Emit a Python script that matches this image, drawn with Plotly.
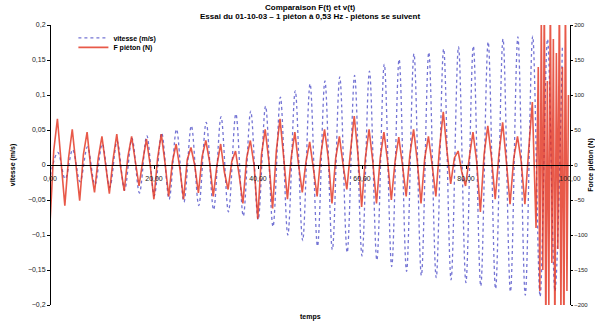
import numpy as np
import plotly.graph_objects as go

# ---------------- data ----------------
# velocity extrema (m/s), alternating trough / peak, uniform half-period sampling
blue_t0 = 0.07
blue_dt = 1.427
blue_v = [-0.015,
          0.018, -0.020, 0.022, -0.024, 0.026, -0.028, 0.030, -0.032, 0.034, -0.036,
          0.038, -0.040, 0.042, -0.044, 0.046, -0.049, 0.051, -0.053, 0.056, -0.058,
          0.061, -0.064, 0.069, -0.067, 0.073, -0.073, 0.077, -0.078, 0.084, -0.088,
          0.097, -0.100, 0.106, -0.108, 0.116, -0.116, 0.120, -0.121, 0.126, -0.125,
          0.128, -0.130, 0.134, -0.136, 0.144, -0.145, 0.151, -0.152, 0.159, -0.158,
          0.161, -0.161, 0.166, -0.164, 0.169, -0.168, 0.170, -0.173, 0.176, -0.177,
          0.180, -0.181, 0.183, -0.186, 0.184, -0.188, 0.180, -0.180, 0.170]

# pedestrian force (N): main part, uniform sampling (4 samples per step cycle)
red_t0 = 0.0
red_dt = 0.7135
red_f = [-84, 20, 66, 5,   -58, 10, 51, 0,   -51, 15, 47, -5,  -39, 10, 41, 0,
         -41, 8, 44, -2,   -37, 12, 41, 5,   -30, 6, 37, 0,    -49, 10, 44, 3,
         -45, 5, 30, -5,   -49, 8, 25, 0,    -40, 12, 35, 5,   -45, 0, 30, -10,
         -35, 5, 20, -15,  -55, 10, 35, 0,   -77, 15, 51, 5,   -62, 20, 66, 10,
         -49, 10, 47, 0,   -39, 5, 33, -5,   -45, 15, 51, 10,  -55, 10, 41, 0,
         -35, 20, 70, 15,  -60, 10, 51, 5,   -55, 10, 47, 5,   -50, 5, 40, 0,
         -45, 15, 51, 5,   -55, 10, 41, 0,   -45, 25, 76, 20,  -27, 10, 20, -10,
         -30, 10, 47, 5,   -67, 15, 56, 10,  -49, 15, 61, 5,   -56, 10, 41, 5,
         -56, 20, 90, -90]
# final part (strong, fast oscillations), finer sampling
red_end_t0 = 93.9
red_end_dt = 0.29
red_end_f = [140, -180, 210, -150, 250, -250, 120, -200, 250, -140, 180,
             -250, 160, -120, 250, -220, 140, -250, 250, -180, 100]

y_ticks_left = [-0.2, -0.15, -0.1, -0.05, 0, 0.05, 0.1, 0.15, 0.2]
y_ticks_right = [-200, -150, -100, -50, 0, 50, 100, 150, 200]
x_ticks = [0, 20, 40, 60, 80, 100]
x_ticklabels = ["0,00", "20,00", "40,00", "60,00", "80,00", "100,00"]

title_1 = "Comparaison F(t) et v(t)"
title_2 = "Essai du 01-10-03 – 1 piéton à 0,53 Hz - piétons se suivent"

blue_t = blue_t0 + blue_dt * np.arange(len(blue_v))
red_t = np.concatenate([red_t0 + red_dt * np.arange(len(red_f)),
                        red_end_t0 + red_end_dt * np.arange(len(red_end_f))])
red_all = list(red_f) + list(red_end_f)

FONT = "Liberation Sans"

fig = go.Figure()
fig.add_trace(go.Scatter(
    x=blue_t, y=blue_v, name="<b>vitesse (m/s)</b>", mode="lines", showlegend=True,
    line=dict(color="#7474d4", width=1.3, dash="dot", shape="spline", smoothing=1.0),
    yaxis="y", legend="legend"))
fig.add_trace(go.Scatter(
    x=red_t, y=red_all, name="<b>F piéton (N)</b>", mode="lines", showlegend=True,
    line=dict(color="rgba(226,48,28,0.8)", width=1.6),
    yaxis="y2", legend="legend2"))

leg_common = dict(xanchor="left", yanchor="top", bgcolor="rgba(0,0,0,0)",
                  font=dict(size=7, family=FONT, color="black"), itemwidth=30)

fig.update_layout(
    width=595, height=324,
    margin=dict(l=50, r=25, t=25, b=19),
    paper_bgcolor="white", plot_bgcolor="white",
    separators=", ", showlegend=True,
    font=dict(family=FONT, size=7, color="black"),
    xaxis=dict(
        range=[0, 100], anchor="free", position=0.5,
        showline=True, linecolor="black", linewidth=1.2,
        showgrid=False, zeroline=False,
        tickvals=x_ticks, ticktext=x_ticklabels,
        ticks="outside", ticklen=3, tickcolor="black", ticklabelstandoff=3,
        tickfont=dict(size=7, family=FONT, color="#222")),
    yaxis=dict(
        range=[-0.2, 0.2], anchor="free", position=0, automargin=False,
        showline=True, linecolor="black", linewidth=1,
        showgrid=False, zeroline=False,
        tickvals=y_ticks_left, ticks="outside", ticklen=3, tickcolor="black",
        tickfont=dict(size=7, family=FONT, color="#222"),
        title=dict(text="<b>vitesse (m/s)</b>", font=dict(size=7, family=FONT), standoff=10)),
    yaxis2=dict(
        range=[-200, 200], overlaying="y", side="right", anchor="free", position=1,
        automargin=False,
        showline=True, linecolor="black", linewidth=1,
        showgrid=False, zeroline=False,
        tickvals=y_ticks_right, ticks="outside", ticklen=2, tickcolor="black",
        tickfont=dict(size=6, family=FONT, color="#222"),
        title=dict(text="<b>Force piéton (N)</b>", font=dict(size=7, family=FONT), standoff=1)),
    legend=dict(x=0.045, y=1.006, **leg_common),
    legend2=dict(x=0.045, y=0.972, **leg_common),
    annotations=[
        dict(text="<b>" + title_1 + "</b>", x=0.5, xref="paper", y=1.061, yref="paper",
             yanchor="middle", showarrow=False, font=dict(size=8, family=FONT, color="black")),
        dict(text="<b>" + title_2 + "</b>", x=0.5, xref="paper", y=1.029, yref="paper",
             yanchor="middle", showarrow=False, font=dict(size=8, family=FONT, color="black")),
        dict(text="<b>temps</b>", x=0.5, xref="paper", y=0, yref="paper",
             yanchor="top", yshift=-6, showarrow=False,
             font=dict(size=7, family=FONT, color="black"))],
)

fig.write_html("out.html")
